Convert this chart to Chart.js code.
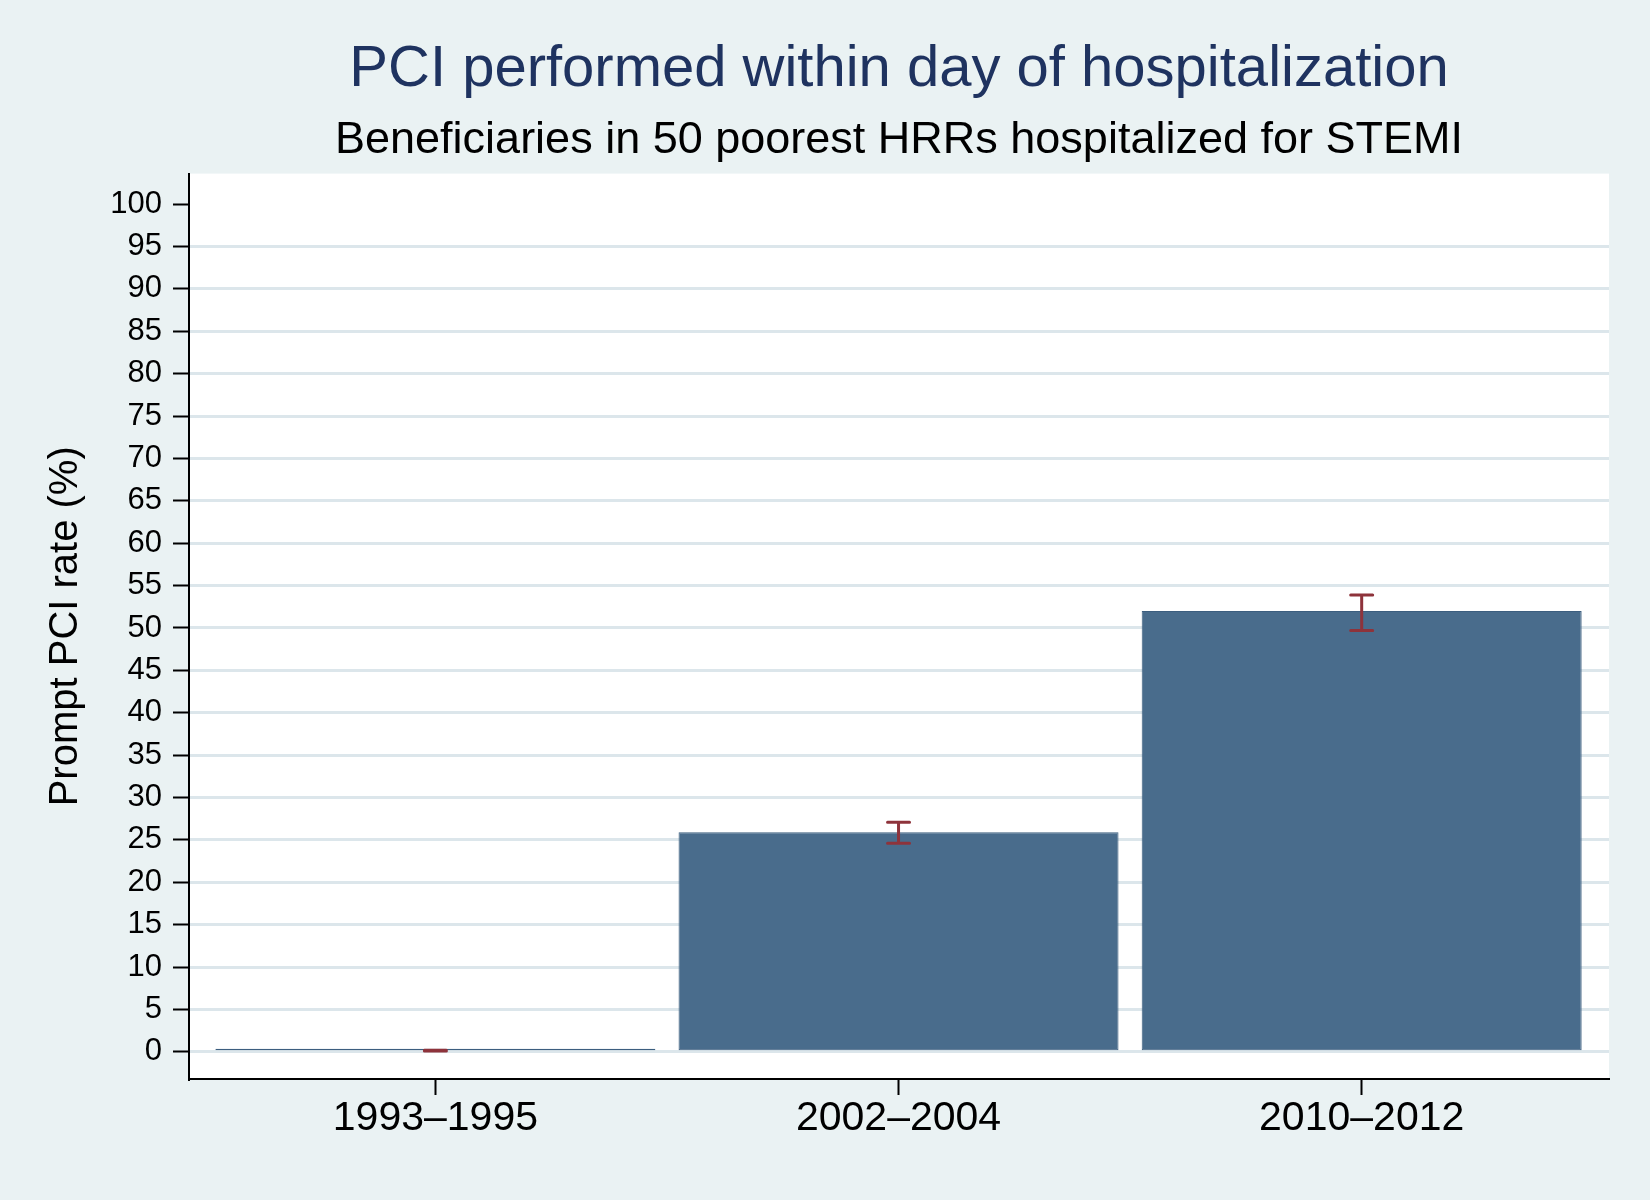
<!DOCTYPE html>
<html>
<head>
<meta charset="utf-8">
<title>PCI performed within day of hospitalization</title>
<script src="https://cdn.jsdelivr.net/npm/chart.js@4/dist/chart.umd.min.js"></script>
<style>
    html, body {
        margin: 0;
        padding: 0;
        background: #EAF2F3;
    }
    #chart-wrap {
        width: 1650px;
        height: 1200px;
    }
</style>
</head>
<body>
<div id="chart-wrap">
    <canvas id="pciChart" width="1650" height="1200"></canvas>
</div>
<script>
// Data
const periods = ["1993\u20131995", "2002\u20132004", "2010\u20132012"];
const pciRate = [0.15, 25.9, 52.0];
const ciLow = [0.1, 24.6, 49.7];
const ciHigh = [0.2, 27.1, 53.9];

const FONT = "'Liberation Sans', Arial, Helvetica, sans-serif";
const BAR_FILL = "#496C8C";
const BAR_EDGE = "#3C5E7F";
const CI_COLOR = "#8E333B";
const GRID_COLOR = "#DCE6EB";

// page background + white plot region
const backgroundPlugin = {
    id: "stataBackground",
    beforeDraw(chart) {
        const { ctx, chartArea } = chart;
        ctx.save();
        ctx.fillStyle = "#EAF2F3";
        ctx.fillRect(0, 0, chart.width, chart.height);
        ctx.fillStyle = "#FFFFFF";
        ctx.fillRect(chartArea.left, chartArea.top,
            chartArea.right - chartArea.left, chartArea.bottom - chartArea.top);
        ctx.restore();
    },
};

// capped confidence interval lines on top of the bars
const errorBarPlugin = {
    id: "ciBars",
    afterDatasetsDraw(chart) {
        const { ctx } = chart;
        const xs = chart.scales.x;
        const ys = chart.scales.y;
        const capHalf = 11;
        ctx.save();
        ctx.strokeStyle = CI_COLOR;
        ctx.lineWidth = 3;
        ctx.lineCap = "round";
        periods.forEach((p, i) => {
            const x = xs.getPixelForValue(i);
            const yLo = ys.getPixelForValue(ciLow[i]);
            const yHi = ys.getPixelForValue(ciHigh[i]);
            ctx.beginPath();
            ctx.moveTo(x, yLo);
            ctx.lineTo(x, yHi);
            ctx.moveTo(x - capHalf, yLo);
            ctx.lineTo(x + capHalf, yLo);
            ctx.moveTo(x - capHalf, yHi);
            ctx.lineTo(x + capHalf, yHi);
            ctx.stroke();
        });
        ctx.restore();
    },
};

function renderChart() {
    const ctx = document.getElementById("pciChart").getContext("2d");

    new Chart(ctx, {
        type: "bar",
        data: {
            datasets: [
                {
                    label: "Prompt PCI rate",
                    data: pciRate.map((v, i) => ({ x: i, y: v })),
                    backgroundColor: BAR_FILL,
                    borderColor: BAR_EDGE,
                    borderWidth: 1,
                    borderSkipped: false,
                    minBarLength: 3,
                    categoryPercentage: 1,
                    barPercentage: 0.95,
                },
            ],
        },
        options: {
            responsive: false,
            animation: false,
            devicePixelRatio: 1,
            layout: {
                padding: { left: 0, right: 41, top: 0, bottom: 0 },
            },
            plugins: {
                legend: { display: false },
                tooltip: { enabled: false },
                title: {
                    display: true,
                    text: "PCI performed within day of hospitalization",
                    color: "#1F3360",
                    fullSize: false,
                    font: { family: FONT, size: 58, weight: "normal", lineHeight: 1.2 },
                    padding: { top: 35, bottom: 0 },
                },
                subtitle: {
                    display: true,
                    text: "Beneficiaries in 50 poorest HRRs hospitalized for STEMI",
                    color: "#000000",
                    fullSize: false,
                    font: { family: FONT, size: 45, weight: "normal", lineHeight: 1.2 },
                    padding: { top: 9, bottom: 6 },
                },
            },
            scales: {
                x: {
                    type: "linear",
                    offset: false,
                    min: -0.532,
                    max: 2.534,
                    afterFit(scale) {
                        scale.height = 121;
                    },
                    afterBuildTicks(scale) {
                        scale.ticks = periods.map((p, i) => ({ value: i }));
                    },
                    ticks: {
                        color: "#000000",
                        font: { family: FONT, size: 41, lineHeight: 1.15 },
                        padding: 0,
                        maxRotation: 0,
                        autoSkip: false,
                        callback: (v) => periods[v] ?? "",
                    },
                    grid: {
                        offset: false,
                        drawOnChartArea: false,
                        tickColor: "#000000",
                        tickWidth: 2,
                        tickLength: 16,
                    },
                    border: { display: true, color: "#000000", width: 2 },
                },
                y: {
                    min: -3.2,
                    max: 103.6,
                    afterFit(scale) {
                        scale.width = 189;
                    },
                    ticks: {
                        stepSize: 5,
                        includeBounds: false,
                        autoSkip: false,
                        color: "#000000",
                        font: { family: FONT, size: 31 },
                        padding: 11,
                    },
                    grid: {
                        color: (c) => (c.tick && c.tick.value === 100 ? "rgba(0,0,0,0)" : GRID_COLOR),
                        lineWidth: 3,
                        tickColor: "#000000",
                        tickWidth: 2,
                        tickLength: 16,
                    },
                    border: { display: true, color: "#000000", width: 2 },
                    title: {
                        display: true,
                        text: "Prompt PCI rate (%)",
                        color: "#000000",
                        font: { family: FONT, size: 40, lineHeight: 1.2 },
                        padding: { top: 42, bottom: 0 },
                    },
                },
            },
        },
        plugins: [backgroundPlugin, errorBarPlugin],
    });
}

renderChart();
</script>
</body>
</html>
